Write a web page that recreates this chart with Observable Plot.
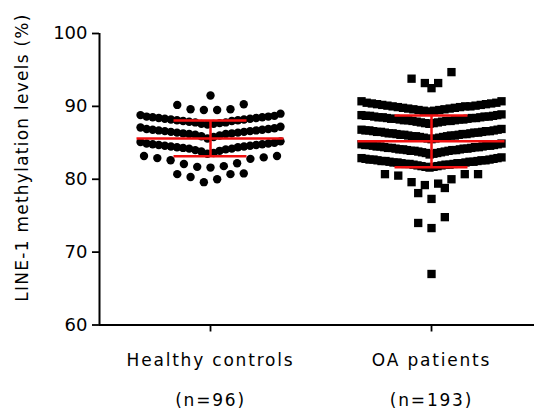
<!DOCTYPE html>
<html>
<head>
<meta charset="utf-8">
<script src="https://cdn.jsdelivr.net/npm/d3@7"></script>
<script src="https://cdn.jsdelivr.net/npm/@observablehq/plot@0.6"></script>
<style>
  html, body { margin: 0; padding: 0; background: #fff; }
  #chart { width: 534px; height: 410px; }
</style>
</head>
<body>
<div id="chart"></div>
<script>
// ---- data ----
const groups = ["Healthy controls", "OA patients"];
const groupN = ["(n=96)", "(n=193)"];
const yTicks = [60, 70, 80, 90, 100];
const yLabel = "LINE-1 methylation levels (%)";
const means = [85.6, 85.2];
const sds = [2.45, 3.55];

const healthy = [
  91.5,
  90.3, 89.6, 89.5, 89.6, 89.5, 90.2,
  87.5, 87.6, 87.7, 87.8, 87.8, 87.9, 88.0, 88.0, 88.1, 88.1, 88.2, 88.2,
  88.3, 88.3, 88.4, 88.4, 88.5, 88.5, 88.6, 88.6, 88.7, 88.8, 89.0, 87.6,
  85.6, 85.8, 85.9, 86.0, 86.1, 86.2, 86.2, 86.3, 86.3, 86.4, 86.4, 86.5,
  86.5, 86.6, 86.6, 86.7, 86.7, 86.8, 86.8, 86.9, 86.9, 87.0, 87.1, 87.2,
  83.5, 83.6, 83.8, 83.9, 84.0, 84.1, 84.2, 84.2, 84.3, 84.4, 84.4, 84.5,
  84.5, 84.6, 84.6, 84.7, 84.7, 84.8, 84.8, 84.9, 84.9, 85.0, 85.1, 85.2,
  83.2, 82.9, 82.6, 82.1, 81.7, 81.6, 81.8, 82.2, 82.8, 83.2, 83.0,
  80.8, 80.3, 79.6, 80.0, 80.7, 80.7
];

const oa = [
  94.7, 93.2, 92.5, 93.2, 93.8,
  90.7, 90.7,
  89.3, 89.4, 89.4, 89.5, 89.5, 89.6, 89.6, 89.7, 89.7, 89.8, 89.8, 89.9, 89.9,
  90.0, 90.0, 90.0, 90.1, 90.1, 90.2, 90.2, 90.3, 90.3, 90.4, 90.4, 90.5, 90.5,
  87.6, 87.7, 87.7, 87.8, 87.8, 87.9, 87.9, 88.0, 88.0, 88.0, 88.1, 88.1, 88.1,
  88.2, 88.2, 88.2, 88.3, 88.3, 88.3, 88.4, 88.4, 88.4, 88.5, 88.5, 88.5,
  88.6, 88.6, 88.6, 88.7, 88.7, 88.7, 88.8, 88.8, 88.9,
  85.5, 85.6, 85.6, 85.7, 85.7, 85.8, 85.8, 85.9, 85.9, 85.9, 86.0, 86.0, 86.0,
  86.1, 86.1, 86.1, 86.2, 86.2, 86.2, 86.3, 86.3, 86.3, 86.4, 86.4, 86.4,
  86.5, 86.5, 86.5, 86.6, 86.6, 86.6, 86.7, 86.7, 86.7, 86.8, 86.8, 86.9,
  83.5, 83.6, 83.6, 83.7, 83.7, 83.8, 83.8, 83.9, 83.9, 83.9, 84.0, 84.0, 84.0,
  84.1, 84.1, 84.1, 84.2, 84.2, 84.2, 84.3, 84.3, 84.3, 84.4, 84.4, 84.4,
  84.5, 84.5, 84.5, 84.6, 84.6, 84.6, 84.7, 84.7, 84.7, 84.8, 84.8, 84.9, 83.4,
  81.6, 81.7, 81.7, 81.8, 81.8, 81.9, 81.9, 82.0, 82.0, 82.0, 82.1, 82.1, 82.1,
  82.2, 82.2, 82.2, 82.3, 82.3, 82.3, 82.4, 82.4, 82.4, 82.5, 82.5, 82.5,
  82.6, 82.6, 82.6, 82.7, 82.7, 82.7, 82.8, 82.8, 82.9, 82.9, 83.0,
  80.7, 80.7, 80.0, 79.4, 79.2, 79.6, 80.5, 80.7,
  78.8, 77.3, 78.1,
  74.0, 73.3, 74.8,
  67.0
];

// ---- layout (GraphPad-like scatter: values binned into rows, spread sideways) ----
const xDomain = [-0.5023, 1.466];
const pxPerGroup = 221;
function swarm(values, gi, base, binW) {
  const out = [];
  const bins = d3.groups(values, v => Math.floor((v - base) / binW));
  for (const [, vs] of bins) {
    const s = vs.slice().sort(d3.ascending);
    const n = s.length;
    const step = n > 1 ? Math.min(13.3, 140 / (n - 1)) : 0;
    s.forEach((v, i) => {
      let slot;
      if (n % 2 === 1) slot = i === 0 ? 0 : (i % 2 === 1 ? -Math.ceil(i / 2) : Math.ceil(i / 2));
      else slot = (i % 2 === 0 ? -1 : 1) * (Math.floor(i / 2) + 0.5);
      out.push({group: gi, value: v, x: gi + slot * step / pxPerGroup});
    });
  }
  return out;
}
const hData = swarm(healthy, 0, 79.25, 2);
const oData = swarm(oa, 1, 79.05, 2);
const stats = means.map((m, i) => ({g: i, mean: m, sd: sds[i]}));
const meanHalf = 73.5 / pxPerGroup;
const capHalf = 36.5 / pxPerGroup;
const red = "#f01010";

const chart = Plot.plot({
  width: 534,
  height: 410,
  marginLeft: 99,
  marginRight: 0,
  marginTop: 33,
  marginBottom: 85.5,
  x: {domain: xDomain},
  y: {domain: [60, 100]},
  style: {fontFamily: "DejaVu Sans", background: "white", color: "black"},
  marks: [
    Plot.dot(hData, {x: "x", y: "value", r: 4.2, fill: "black", symbol: "circle"}),
    Plot.dot(oData, {x: "x", y: "value", r: 4.7, fill: "black", symbol: "square"}),
    Plot.ruleY(stats, {y: "mean", x1: d => d.g - meanHalf, x2: d => d.g + meanHalf, stroke: red, strokeWidth: 2.5}),
    Plot.ruleY(stats, {y: d => d.mean + d.sd, x1: d => d.g - capHalf, x2: d => d.g + capHalf, stroke: red, strokeWidth: 2.5}),
    Plot.ruleY(stats, {y: d => d.mean - d.sd, x1: d => d.g - capHalf, x2: d => d.g + capHalf, stroke: red, strokeWidth: 2.5}),
    Plot.ruleX(stats, {x: "g", y1: d => d.mean - d.sd, y2: d => d.mean + d.sd, stroke: red, strokeWidth: 2.5}),
    Plot.ruleY([60], {stroke: "black", strokeWidth: 2}),
    Plot.ruleX([xDomain[0]], {stroke: "black", strokeWidth: 2}),
    Plot.axisY({ticks: yTicks, tickSize: 7, tickPadding: 5, fontSize: 18, label: null, strokeWidth: 1.8}),
    Plot.axisX({ticks: [0, 1], tickFormat: i => groups[i], tickSize: 7, tickPadding: 21.5, fontSize: 17, label: null, strokeWidth: 1.8}),
    Plot.axisX({ticks: [0, 1], tickFormat: i => groupN[i], tickSize: 0, tickPadding: 69, fontSize: 17, label: null}),
    Plot.text([yLabel], {frameAnchor: "left", textAnchor: "middle", rotate: -90, dx: -77, dy: -21.75, fontSize: 17})
  ]
});

d3.select(chart).selectAll('g[aria-label="x-axis tick label"]').attr("letter-spacing", "1.8px");
d3.select(chart).selectAll('g[aria-label="text"]').attr("letter-spacing", "1.25px");
document.getElementById("chart").appendChild(chart);
</script>
</body>
</html>
